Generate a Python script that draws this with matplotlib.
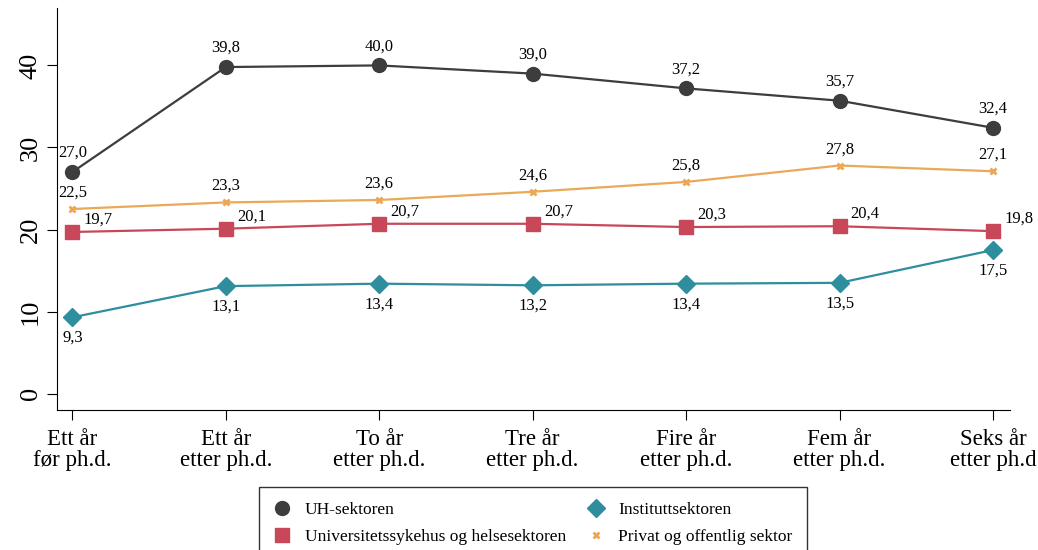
import numpy as np
import matplotlib.pyplot as plt

plt.rcParams['font.family'] = ['Liberation Serif', 'DejaVu Serif']

kategorier = ["Ett år\nfør ph.d.", "Ett år\netter ph.d.", "To år\netter ph.d.",
              "Tre år\netter ph.d.", "Fire år\netter ph.d.", "Fem år\netter ph.d.",
              "Seks år\netter ph.d"]
uh = [27.0, 39.8, 40.0, 39.0, 37.2, 35.7, 32.4]
univ = [19.7, 20.1, 20.7, 20.7, 20.3, 20.4, 19.8]
institutt = [9.3, 13.1, 13.4, 13.2, 13.4, 13.5, 17.5]
privat = [22.5, 23.3, 23.6, 24.6, 25.8, 27.8, 27.1]

x = np.arange(len(kategorier))

fig = plt.figure(figsize=(10.38, 5.5), dpi=100)
ax = fig.add_axes([0.0549, 0.2545, 0.918, 0.731])

c_uh = '#3d3d3d'
c_univ = '#c8485a'
c_inst = '#2e8e9e'
c_priv = '#eaa858'

l1, = ax.plot(x, uh, color=c_uh, lw=1.6, marker='o', ms=10, label='UH-sektoren')
l2, = ax.plot(x, univ, color=c_univ, lw=1.6, marker='s', ms=9.5,
              label='Universitetssykehus og helsesektoren')
l3, = ax.plot(x, institutt, color=c_inst, lw=1.6, marker='D', ms=9,
              label='Instituttsektoren')
l4, = ax.plot(x, privat, color=c_priv, lw=1.6, marker='x', ms=5, mew=2,
              label='Privat og offentlig sektor')

fmt = lambda v: f"{v:.1f}".replace('.', ',')
fs = 12
for i in x:
    ax.annotate(fmt(uh[i]), (i, uh[i]), xytext=(0, 8), textcoords='offset points',
                ha='center', va='bottom', fontsize=fs)
    ax.annotate(fmt(privat[i]), (i, privat[i]), xytext=(0, 6), textcoords='offset points',
                ha='center', va='bottom', fontsize=fs)
    ax.annotate(fmt(univ[i]), (i, univ[i]), xytext=(8, 3), textcoords='offset points',
                ha='left', va='bottom', fontsize=fs)
    ax.annotate(fmt(institutt[i]), (i, institutt[i]), xytext=(0, -9), textcoords='offset points',
                ha='center', va='top', fontsize=fs)

ax.set_xlim(-0.1, 6.11)
ax.set_ylim(-2, 47)
ax.set_yticks([0, 10, 20, 30, 40])
ax.set_xticks(x)
ax.set_xticklabels(kategorier, fontsize=16.5, linespacing=1.0)
ax.tick_params(axis='y', labelsize=19, labelrotation=90, length=7, pad=4)
ax.tick_params(axis='x', length=7, pad=7)
for lab in ax.get_yticklabels():
    lab.set_va('center')
ax.spines['top'].set_visible(False)
ax.spines['right'].set_visible(False)

leg = fig.legend(handles=[l1, l2, l3, l4], ncol=2, loc='upper center',
                 bbox_to_anchor=(0.5135, 0.1145), borderaxespad=0,
                 frameon=True, fancybox=False, edgecolor='black', fontsize=12.5,
                 handlelength=1.0, borderpad=0.85, labelspacing=0.62,
                 columnspacing=1.2, handletextpad=0.8)
for h in leg.legend_handles:
    h.set_linestyle('')
leg.get_frame().set_linewidth(1.0)

fig.savefig('out.png', dpi=100)
